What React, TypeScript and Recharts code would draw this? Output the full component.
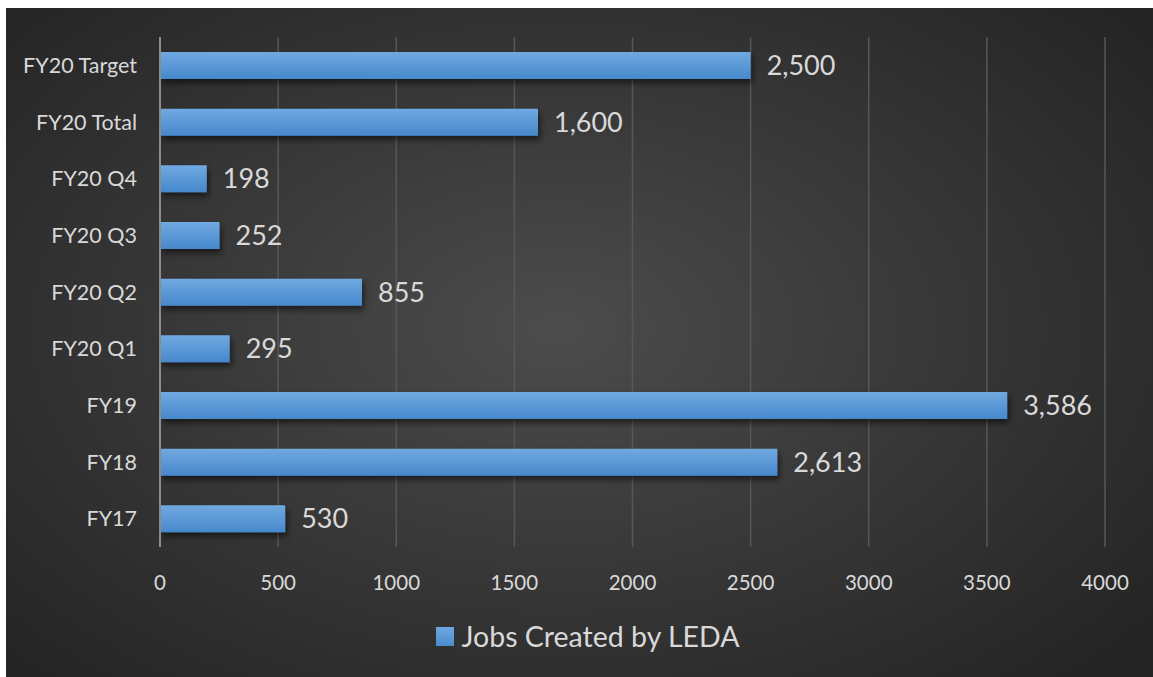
import React from 'react';
import { BarChart, Bar, XAxis, YAxis, CartesianGrid, Legend, LabelList } from 'recharts';

const categories = ['FY20 Target', 'FY20 Total', 'FY20 Q4', 'FY20 Q3', 'FY20 Q2', 'FY20 Q1', 'FY19', 'FY18', 'FY17'];
const jobs = [2500, 1600, 198, 252, 855, 295, 3586, 2613, 530];
const xTicks = [0, 500, 1000, 1500, 2000, 2500, 3000, 3500, 4000];
const seriesName = 'Jobs Created by LEDA';

const data = categories.map((name, i) => ({ name, jobs: jobs[i] }));

const textColor = '#d9d9d9';
const font = 'Lato, "Open Sans", sans-serif';

const LegendBox = () => (
  <div style={{ display: 'flex', justifyContent: 'center', alignItems: 'center', fontFamily: font, fontSize: 28.5, color: textColor, lineHeight: '34px', paddingLeft: 16 }}>
    <span style={{ width: 18, height: 19, background: 'linear-gradient(#6fa8e0, #4a8ccf)', marginRight: 8, display: 'inline-block' }} />
    <span>{seriesName}</span>
  </div>
);

const App = () => {
  return (
    <div style={{ position: 'fixed', left: 0, top: 0, width: 1153, height: 677, background: '#fff' }}>
      <div
        style={{
          position: 'absolute',
          left: 6,
          top: 8,
          width: 1147,
          height: 669,
          background: 'radial-gradient(ellipse 65% 70% at 48% 48%, #4c4c4c 0%, #3a3a3a 45%, #252525 100%)',
        }}
      >
        <BarChart
          width={1147}
          height={669}
          data={data}
          layout="vertical"
          margin={{ top: 29, right: 48, left: 0, bottom: 46 }}
          barSize={27}
        >
          <defs>
            <linearGradient id="barFill" x1="0" y1="0" x2="0" y2="1">
              <stop offset="0%" stopColor="#71a9e1" />
              <stop offset="100%" stopColor="#4688cc" />
            </linearGradient>
            <filter id="barShadow" x="-5%" y="-30%" width="115%" height="180%">
              <feDropShadow dx="2" dy="4" stdDeviation="3" floodColor="#000" floodOpacity="0.55" />
            </filter>
          </defs>
          <CartesianGrid horizontal={false} stroke="#575757" strokeWidth={1.5} />
          <XAxis
            type="number"
            domain={[0, 4000]}
            ticks={xTicks}
            axisLine={false}
            tickLine={false}
            tick={{ fill: textColor, fontSize: 20.5, fontFamily: font }}
            tickMargin={22}
            height={50}
          />
          <YAxis
            type="category"
            dataKey="name"
            width={154}
            axisLine={{ stroke: '#8c8c8c', strokeWidth: 2 }}
            tickLine={false}
            tickSize={0}
            tickMargin={23}
            tick={{ fill: textColor, fontSize: 21.5, fontFamily: font }}
          />
          <Legend verticalAlign="bottom" wrapperStyle={{ bottom: 24, left: 0, width: 1147 }} content={() => <LegendBox />} />
          <Bar dataKey="jobs" name={seriesName} fill="url(#barFill)" filter="url(#barShadow)" isAnimationActive={false}>
            <LabelList
              dataKey="jobs"
              position="right"
              offset={16}
              fill={textColor}
              fontSize={27}
              fontFamily={font}
              formatter={(v: number) => v.toLocaleString('en-US')}
            />
          </Bar>
        </BarChart>
      </div>
    </div>
  );
};

export default App;
